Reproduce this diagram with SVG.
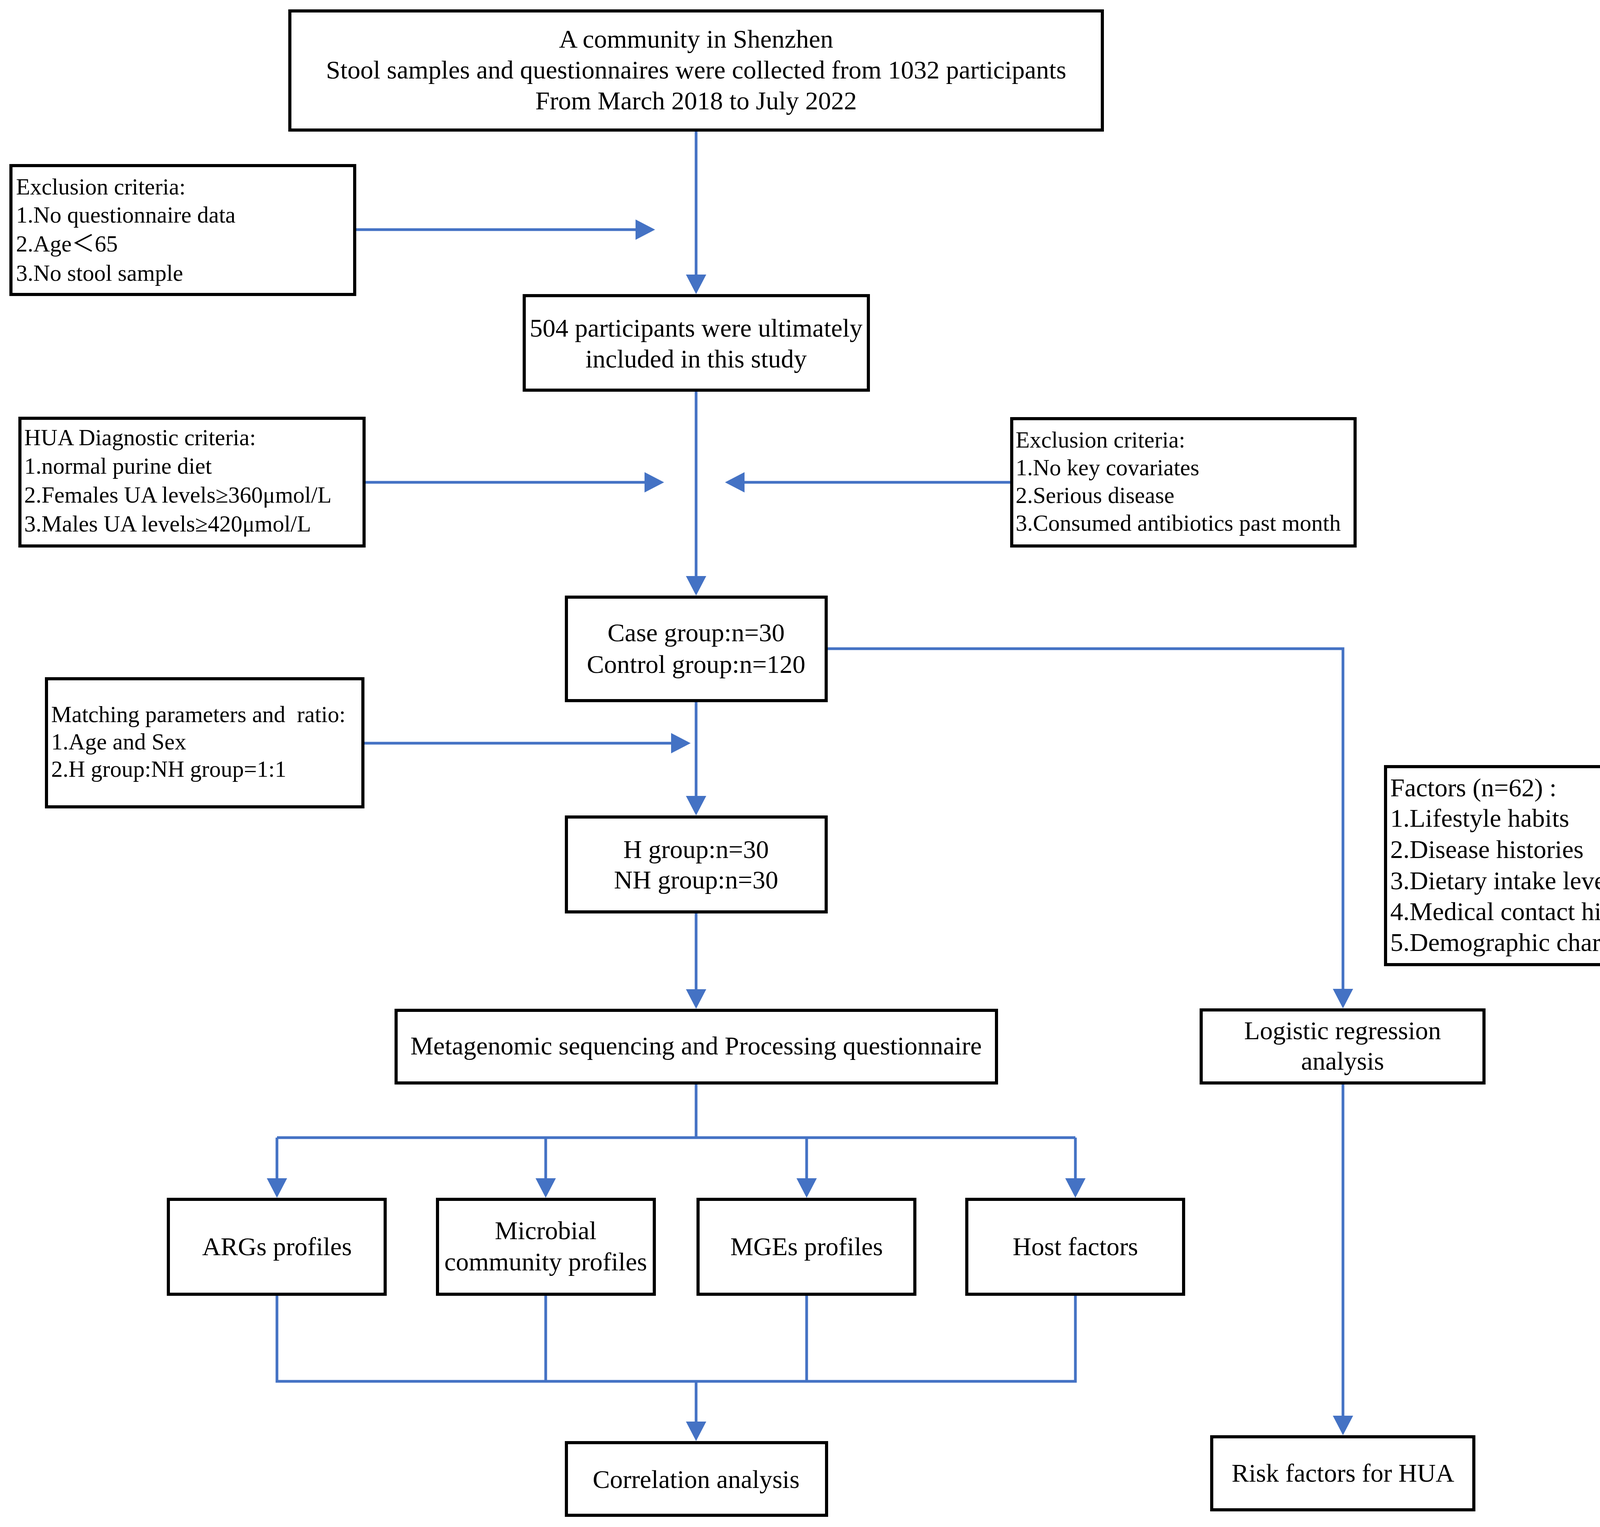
<svg xmlns="http://www.w3.org/2000/svg" width="4429" height="3910" viewBox="0 0 4429 3910">
<style>
.box{fill:#fff;stroke:#000;stroke-width:8}
.t{font-family:"Liberation Serif","Times New Roman","Noto Sans CJK SC",serif;fill:#000}
.m{font-size:66px;text-anchor:middle}
.s{font-size:59px}
.f{font-size:66px}
.c{fill:none;stroke:#4472C4;stroke-width:7}
.a{marker-end:url(#ah)}
</style>
<defs>
<marker id="ah" markerUnits="userSpaceOnUse" markerWidth="52" markerHeight="52" viewBox="0 0 50 52" refX="2" refY="26" orient="auto">
<path d="M0,0 L50,26 L0,52 z" fill="#4472C4"/>
</marker>
</defs>
<rect width="4429" height="3910" fill="#fff"/>
<g id="connectors">
<path class="c a" d="M1782,337 V705"/>
<path class="c a" d="M912,588 H1629"/>
<path class="c a" d="M1782,1003 V1477"/>
<path class="c a" d="M936,1235 H1652"/>
<path class="c a" d="M2586,1235 H1904"/>
<path class="c a" d="M2119,1661 H3438 V2534"/>
<path class="c a" d="M1782,1798 V2040"/>
<path class="c a" d="M933,1903 H1720"/>
<path class="c a" d="M1782,2339 V2535"/>
<path class="c" d="M1782,2777 V2913"/>
<path class="c" d="M709,2913 H2753"/>
<path class="c a" d="M709,2913 V3019"/>
<path class="c a" d="M1397,2913 V3019"/>
<path class="c a" d="M2065,2913 V3019"/>
<path class="c a" d="M2753,2913 V3019"/>
<path class="c" d="M709,3318 V3537 H2753 V3318"/>
<path class="c" d="M1397,3318 V3537"/>
<path class="c" d="M2065,3318 V3537"/>
<path class="c a" d="M1782,3537 V3642"/>
<path class="c a" d="M3438,2777 V3627"/>
</g>
<g id="n-top">
<rect class="box" x="742" y="28" width="2080" height="305"/>
<text class="t m" x="1782" y="122">A community in Shenzhen</text>
<text class="t m" x="1782" y="201">Stool samples and questionnaires were collected from 1032 participants</text>
<text class="t m" x="1782" y="280">From March 2018 to July 2022</text>
</g>
<g id="n-excl1">
<rect class="box" x="28" y="424" width="880" height="330"/>
<text class="t s" x="41" y="498">Exclusion criteria:</text>
<text class="t s" x="41" y="570">1.No questionnaire data</text>
<text class="t s" x="41" y="644">2.Age＜65</text>
<text class="t s" x="41" y="719">3.No stool sample</text>
</g>
<g id="n-504">
<rect class="box" x="1342" y="757" width="881" height="242"/>
<text class="t m" x="1782" y="862">504 participants were ultimately</text>
<text class="t m" x="1782" y="941">included in this study</text>
</g>
<g id="n-hua">
<rect class="box" x="51" y="1071" width="881" height="327"/>
<text class="t s" x="62" y="1140">HUA Diagnostic criteria:</text>
<text class="t s" x="62" y="1213">1.normal purine diet</text>
<text class="t s" x="62" y="1287">2.Females UA levels≥360μmol/L</text>
<text class="t s" x="62" y="1361">3.Males UA levels≥420μmol/L</text>
</g>
<g id="n-excl2">
<rect class="box" x="2590" y="1072" width="879" height="326"/>
<text class="t s" x="2600" y="1146">Exclusion criteria:</text>
<text class="t s" x="2600" y="1217">1.No key covariates</text>
<text class="t s" x="2600" y="1288">2.Serious disease</text>
<text class="t s" x="2600" y="1359">3.Consumed antibiotics past month</text>
</g>
<g id="n-case">
<rect class="box" x="1450" y="1529" width="665" height="265"/>
<text class="t m" x="1782" y="1642">Case group:n=30</text>
<text class="t m" x="1782" y="1723">Control group:n=120</text>
</g>
<g id="n-matching">
<rect class="box" x="119" y="1738" width="810" height="328"/>
<text class="t s" x="131" y="1849" style="white-space:pre">Matching parameters and  ratio:</text>
<text class="t s" x="131" y="1919">1.Age and Sex</text>
<text class="t s" x="131" y="1989">2.H group:NH group=1:1</text>
</g>
<g id="n-h">
<rect class="box" x="1450" y="2092" width="665" height="243"/>
<text class="t m" x="1782" y="2197">H group:n=30</text>
<text class="t m" x="1782" y="2275">NH group:n=30</text>
</g>
<g id="n-factors">
<rect class="box" x="3547" y="1963" width="854" height="507"/>
<text class="t f" x="3559" y="2039">Factors (n=62) :</text>
<text class="t f" x="3559" y="2117">1.Lifestyle habits</text>
<text class="t f" x="3559" y="2197">2.Disease histories</text>
<text class="t f" x="3559" y="2277">3.Dietary intake levels</text>
<text class="t f" x="3559" y="2356">4.Medical contact histories</text>
<text class="t f" x="3559" y="2435">5.Demographic characteristics</text>
</g>
<g id="n-meta">
<rect class="box" x="1014" y="2587" width="1537" height="186"/>
<text class="t m" x="1782" y="2700">Metagenomic sequencing and Processing questionnaire</text>
</g>
<g id="n-logistic">
<rect class="box" x="3075" y="2586" width="724" height="187"/>
<text class="t m" x="3437" y="2661">Logistic regression</text>
<text class="t m" x="3437" y="2739">analysis</text>
</g>
<g id="n-args">
<rect class="box" x="431" y="3071" width="555" height="243"/>
<text class="t m" x="709" y="3214">ARGs profiles</text>
</g>
<g id="n-microbial">
<rect class="box" x="1120" y="3071" width="555" height="243"/>
<text class="t m" x="1397" y="3173">Microbial</text>
<text class="t m" x="1397" y="3253">community profiles</text>
</g>
<g id="n-mges">
<rect class="box" x="1787" y="3071" width="555" height="243"/>
<text class="t m" x="2065" y="3214">MGEs profiles</text>
</g>
<g id="n-host">
<rect class="box" x="2475" y="3071" width="555" height="243"/>
<text class="t m" x="2753" y="3214">Host factors</text>
</g>
<g id="n-correlation">
<rect class="box" x="1450" y="3694" width="666" height="186"/>
<text class="t m" x="1782" y="3810">Correlation analysis</text>
</g>
<g id="n-risk">
<rect class="box" x="3102" y="3679" width="671" height="187"/>
<text class="t m" x="3438" y="3794">Risk factors for HUA</text>
</g>
</svg>
